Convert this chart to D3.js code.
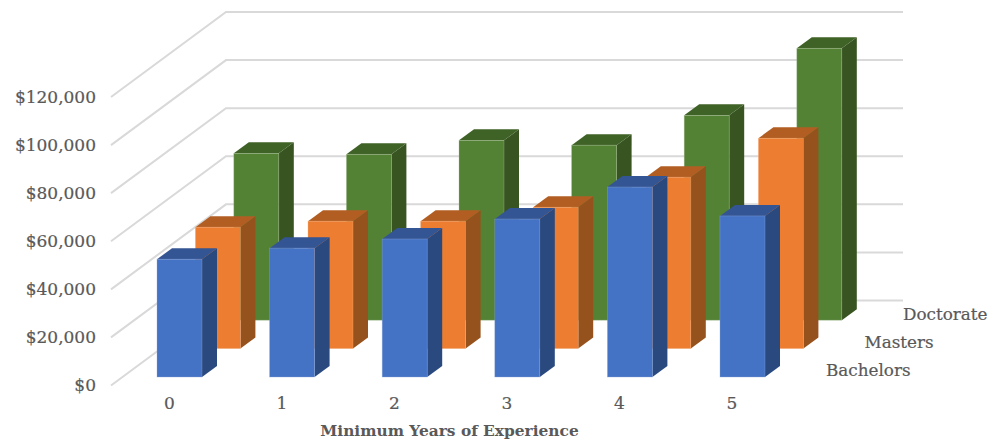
<!DOCTYPE html>
<html><head><meta charset="utf-8">
<script src="https://cdnjs.cloudflare.com/ajax/libs/d3/7.8.5/d3.min.js"></script>
<style>html,body{margin:0;padding:0;background:#fff}svg{display:block}
text{font-family:"DejaVu Serif",serif;fill:#595959;stroke:#595959;stroke-width:0.2px}</style></head><body>
<svg id="c" width="989" height="442"></svg>
<script>
const categories = ["0","1","2","3","4","5"];
const seriesNames = ["Bachelors","Masters","Doctorate"];
const bachelors = [49000,53600,57400,65700,79000,67000];
const masters = [50500,53000,53000,58800,71300,87500];
const doctorate = [69400,69000,74800,72800,85200,113100];
const yTicks = [0,20000,40000,60000,80000,100000,120000];
const xTitle = "Minimum Years of Experience";
const seriesValues = [bachelors,masters,doctorate];
const fills = [
  {front:"#4472c4",side:"#2a4a7f",top:"#335593",edge:"#8faadc"},
  {front:"#ed7d31",side:"#96521c",top:"#b25e22",edge:"#f4b183"},
  {front:"#548235",side:"#375421",top:"#3f6227",edge:"#a9c096"}];

const svg = d3.select("#c");
const y = d3.scaleLinear().domain([0,120000]).range([385.5,97]);
const xPos = d3.scalePoint().domain(categories).range([157,720]);
const depthX = d3.scaleLinear().domain([0,3]).range([0,115]);
const depthY = d3.scaleLinear().domain([0,3]).range([0,-85]);
const barW = 45, sideDx = 15, sideDy = -11;
const floorShift = -8.5;
const hOf = v => y(0)-y(v);

const grid = svg.append("g").attr("fill","none").attr("stroke","#d9d9d9").attr("stroke-width",2);
const line = d3.line();
const backRight = 903;
yTicks.forEach(t=>{
  grid.append("path").attr("d",line([
    [111,y(t)],
    [111+depthX(3),y(t)+depthY(3)],
    [backRight,y(t)+depthY(3)]
  ]));
});

[2,1,0].forEach(s=>{
  const g = svg.append("g");
  const c = fills[s];
  const vals = seriesValues[s];
  categories.forEach((cat,i)=>{
    const v = vals[i];
    const x0 = xPos(cat)+38.4*s;
    const base = y(0)+floorShift-28.4*s;
    const top = base-hOf(v);
    const x1 = x0+barW;
    const pts = a=>a.map(p=>p.join(",")).join(" ");
    g.append("polygon").attr("fill",c.side).attr("points",pts([[x1,base],[x1+sideDx,base+sideDy],[x1+sideDx,top+sideDy],[x1,top]]));
    g.append("polygon").attr("fill",c.top).attr("points",pts([[x0,top],[x0+sideDx,top+sideDy],[x1+sideDx,top+sideDy],[x1,top]]));
    g.append("rect").attr("x",x0).attr("y",top).attr("width",barW).attr("height",base-top)
      .attr("fill",c.front).attr("stroke",c.edge).attr("stroke-opacity",0.5).attr("stroke-width",0.7);
  });
});

const yAxis = d3.axisLeft(y).tickValues(yTicks).tickSize(0).tickPadding(0).tickFormat(d3.format("$,"));
svg.append("g").attr("transform","translate(96,0)").call(yAxis)
  .call(g=>g.select(".domain").remove())
  .selectAll("text").style("font-size","17px").style("font-family",'"DejaVu Serif",serif').attr("dy","0.32em");

const xAxis = d3.axisBottom(d3.scalePoint().domain(categories).range([169,731.5])).tickSize(0).tickPadding(0);
svg.append("g").attr("transform","translate(0,397)").call(xAxis)
  .call(g=>g.select(".domain").remove())
  .selectAll("text").style("font-size","17px").style("font-family",'"DejaVu Serif",serif');

svg.append("text").attr("x",449.5).attr("y",436).attr("text-anchor","middle")
  .style("font-size","15.4px").style("font-weight","bold").style("stroke-width","0").text(xTitle);

const sx = d3.scalePoint().domain(seriesNames).range([826,903]);
const sy = d3.scalePoint().domain(seriesNames).range([376,320]);
seriesNames.forEach(n=>{
  svg.append("text").attr("x",sx(n)).attr("y",sy(n)).style("font-size","16.8px").text(n);
});
</script></body></html>
